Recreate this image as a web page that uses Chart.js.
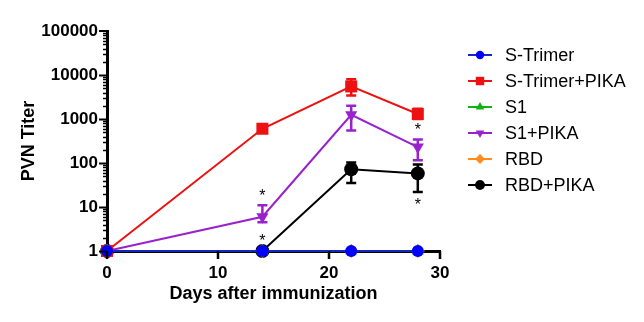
<!DOCTYPE html>
<html>
<head>
<meta charset="utf-8">
<script src="https://cdn.jsdelivr.net/npm/chart.js@4/dist/chart.umd.min.js"></script>
<style>
html,body{margin:0;padding:0;background:#fff;}
#wrap{width:644px;height:322px;position:relative;}
</style>
</head>
<body>
<div id="wrap"><canvas id="c" width="644" height="322"></canvas></div>
<script>
// ---- data ----
const days = [0, 14, 22, 28];
const seriesNames = ['S-Trimer', 'S-Trimer+PIKA', 'S1', 'S1+PIKA', 'RBD', 'RBD+PIKA'];
const sTrimer      = [1, 1, 1, 1];
const sTrimerPika  = [1, 600, 5500, 1300];
const s1           = [1, 1, 1, 1];
const s1Pika       = [1, 6, 1250, 230];
const rbd          = [1, 1, 1, 1];
const rbdPika      = [1, 1, 72, 58];
// error bars (upper / lower), null = none
const sTrimerPikaHi = [null, 720, 8000, 1700];
const sTrimerPikaLo = [null, 500, 3400, 1000];
const s1PikaHi      = [null, 11, 2000, 340];
const s1PikaLo      = [null, 4.5, 550, 115];
const rbdPikaHi     = [null, null, 103, 93];
const rbdPikaLo     = [null, null, 35, 22];
// significance marks: series index, day index, side
const sigSeries = [3, 5, 3, 5];
const sigDay    = [1, 1, 3, 3];
const sigSide   = ['above', 'above', 'above', 'below'];
const yTickLabels = [1, 10, 100, 1000, 10000, 100000];
const xTickLabels = [0, 10, 20, 30];

const colors = ['#0000ff', '#ee1111', '#11b311', '#9922cc', '#ff8c1a', '#000000'];
const lineColors = ['#1428c0', '#ee1111', '#11b311', '#9922cc', '#ff8c1a', '#000000'];
const styles = ['circle', 'rect', 'triangle', 'triangle', 'rectRot', 'circle'];
const rotations = [0, 0, 0, 180, 0, 0];
const radii = [6, 8.5, 7, 7, 7, 7];
const values = [sTrimer, sTrimerPika, s1, s1Pika, rbd, rbdPika];
const his = [null, sTrimerPikaHi, null, s1PikaHi, null, rbdPikaHi];
const los = [null, sTrimerPikaLo, null, s1PikaLo, null, rbdPikaLo];

const FONT = "'Liberation Sans', Arial, sans-serif";

const datasets = seriesNames.map((n, i) => ({
  label: n,
  data: days.map((d, j) => ({x: d, y: values[i][j]})),
  borderColor: lineColors[i],
  backgroundColor: colors[i],
  pointBorderColor: colors[i],
  borderWidth: 2,
  pointStyle: styles[i],
  rotation: rotations[i],
  pointRadius: radii[i],
  pointBorderWidth: 0,
  tension: 0,
  clip: false
}));

const extras = {
  id: 'extras',
  beforeDatasetsDraw(chart) {
    const ctx = chart.ctx, xs = chart.scales.x, ys = chart.scales.y;
    ctx.save();
    for (let i = seriesNames.length - 1; i >= 0; i--) {
      if (!his[i]) continue;
      ctx.strokeStyle = colors[i];
      ctx.lineWidth = 2.5;
      days.forEach((d, j) => {
        const hi = his[i][j], lo = los[i][j];
        if (hi == null) return;
        const px = xs.getPixelForValue(d);
        const py1 = ys.getPixelForValue(hi), py2 = ys.getPixelForValue(lo);
        ctx.beginPath();
        ctx.moveTo(px, py1); ctx.lineTo(px, py2);
        ctx.moveTo(px - 5, py1); ctx.lineTo(px + 5, py1);
        ctx.moveTo(px - 5, py2); ctx.lineTo(px + 5, py2);
        ctx.stroke();
      });
    }
    ctx.restore();
  },
  afterDraw(chart) {
    const ctx = chart.ctx, xs = chart.scales.x, ys = chart.scales.y;
    ctx.save();
    ctx.strokeStyle = '#000';
    const left = chart.chartArea.left;
    for (let e = 0; e < 5; e++) {
      for (let m = 1; m <= 9; m++) {
        const v = m * Math.pow(10, e);
        const py = Math.round(ys.getPixelForValue(v)) + 0.5;
        ctx.beginPath();
        ctx.lineWidth = m === 1 ? 2 : 1.5;
        ctx.moveTo(left - 1, py);
        ctx.lineTo(left - (m === 1 ? 8 : 4), py);
        ctx.stroke();
      }
    }
    {
      const py = ys.getPixelForValue(100000);
      ctx.lineWidth = 2;
      ctx.beginPath(); ctx.moveTo(left - 1, py); ctx.lineTo(left - 8, py); ctx.stroke();
    }
    const bottom = chart.chartArea.bottom;
    xTickLabels.forEach(v => {
      const px = xs.getPixelForValue(v);
      ctx.lineWidth = 2.5;
      ctx.beginPath(); ctx.moveTo(px, bottom); ctx.lineTo(px, bottom + 8); ctx.stroke();
    });
    // significance asterisks
    ctx.fillStyle = '#000';
    ctx.font = '16px ' + FONT;
    ctx.textAlign = 'center';
    ctx.textBaseline = 'middle';
    sigSeries.forEach((s, k) => {
      const j = sigDay[k];
      const px = xs.getPixelForValue(days[j]);
      let ref;
      if (sigSide[k] === 'above') {
        ref = (his[s] && his[s][j] != null) ? his[s][j] : values[s][j];
        ctx.fillText('*', px, ys.getPixelForValue(ref) - 9);
      } else {
        ref = (los[s] && los[s][j] != null) ? los[s][j] : values[s][j];
        ctx.fillText('*', px, ys.getPixelForValue(ref) + 14);
      }
    });
    // legend
    ctx.font = '18px ' + FONT;
    ctx.textAlign = 'left';
    ctx.textBaseline = 'middle';
    seriesNames.forEach((n, i) => {
      const ly = 55 + i * 26;
      ctx.strokeStyle = lineColors[i];
      ctx.lineWidth = 2;
      ctx.beginPath(); ctx.moveTo(468, ly); ctx.lineTo(492, ly); ctx.stroke();
      ctx.fillStyle = colors[i];
      Chart.helpers.drawPoint(ctx, {pointStyle: styles[i], rotation: rotations[i], radius: radii[i] * 0.7, borderWidth: 0}, 480, ly);
      ctx.fillStyle = '#000';
      ctx.fillText(n, 505, ly + 1);
    });
    ctx.restore();
  }
};

new Chart(document.getElementById('c'), {
  type: 'line',
  data: { datasets },
  options: {
    responsive: false,
    animation: false,
    devicePixelRatio: 1,
    layout: { padding: { top: 31, right: 204, left: 18, bottom: 17 } },
    plugins: { legend: { display: false }, tooltip: { enabled: false } },
    scales: {
      x: {
        type: 'linear', min: 0, max: 30,
        afterBuildTicks: s => { s.ticks = xTickLabels.map(v => ({value: v})); },
        afterFit: s => { s.height = 54; },
        grid: { display: false },
        border: { display: true, color: '#000', width: 3 },
        ticks: { color: '#000', font: { family: FONT, size: 17, weight: 'bold' }, padding: 4 },
        title: { display: true, text: 'Days after immunization', color: '#000', font: { family: FONT, size: 18, weight: 'bold' }, padding: { top: 0, bottom: 0 } }
      },
      y: {
        type: 'logarithmic', min: 1, max: 100000,
        afterBuildTicks: s => { s.ticks = yTickLabels.map(v => ({value: v})); },
        afterFit: s => { s.width = 89; },
        grid: { display: false },
        border: { display: true, color: '#000', width: 3 },
        ticks: { color: '#000', font: { family: FONT, size: 17, weight: 'bold' }, padding: 1, callback: v => String(v) },
        title: { display: true, text: 'PVN Titer', color: '#000', font: { family: FONT, size: 18, weight: 'bold' }, padding: { top: 0, bottom: 0 } }
      }
    }
  },
  plugins: [extras]
});
</script>
</body>
</html>
